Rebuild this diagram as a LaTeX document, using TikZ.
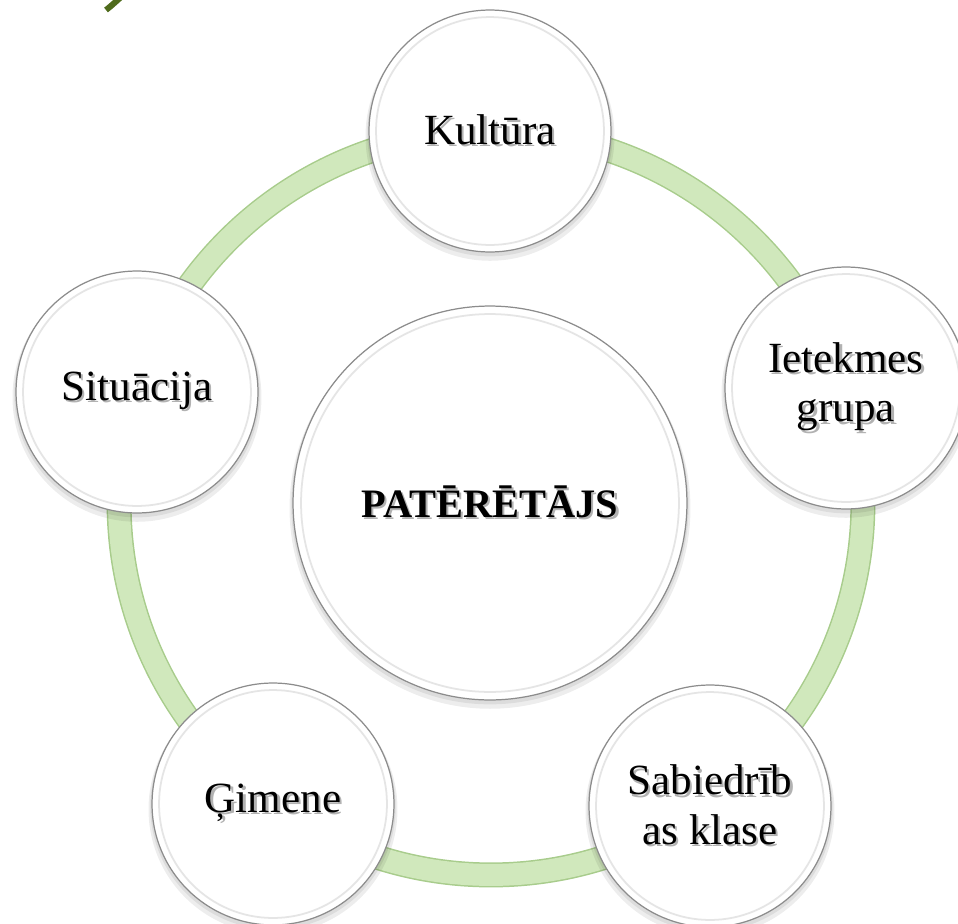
\documentclass[tikz,border=0pt]{standalone}
\usepackage{fontspec}
\setmainfont{Liberation Serif}
\definecolor{ringfill}{HTML}{D0E8BC}
\definecolor{ringedge}{HTML}{A8CC8C}
\definecolor{titlegreen}{HTML}{4F6B1C}
\newcommand\shd[1]{\leavevmode\rlap{\kern1.3pt\raisebox{-1.3pt}{\textcolor{black!30}{#1}}}#1}
\tikzset{
  bubble/.style={circle, inner sep=0pt, fill=white, draw=black!45, line width=0.7pt, align=center, text=black},
  smallbubble/.style={bubble, minimum size=4.84cm, font=\fontsize{24.5}{28}\selectfont},
  bigbubble/.style={bubble, minimum size=7.88cm, font=\fontsize{23}{26}\selectfont\bfseries},
  softshadow/.style={fill=black, opacity=0.07},
  rimline/.style={draw=black!10, line width=1pt},
}
\begin{document}
\begin{tikzpicture}[x=0.02cm,y=-0.02cm]
\useasboundingbox (0,0) rectangle (958,924);
% centres
\coordinate (cr) at (491,503);
\coordinate (ck) at (490,131);
\coordinate (ci) at (846,388);
\coordinate (cs) at (710,806);
\coordinate (cg) at (273,804);
\coordinate (csi) at (137,392);
\coordinate (cp) at (490,503);
% title fragment
\draw[titlegreen, line width=0.12cm] (106,10) .. controls (111,6) .. (121,-3);
% ring
\draw[ringedge, line width=0.5cm] (cr) circle (7.44cm);
\draw[ringfill, line width=0.44cm] (cr) circle (7.44cm);
% shadows
\foreach \c/\r in {ck/2.42,ci/2.42,cs/2.42,cg/2.42,csi/2.42,cp/3.94}{
  \fill[softshadow] ([yshift=-3pt]\c) circle ({\r cm+2pt});
  \fill[softshadow] ([yshift=-1.5pt]\c) circle ({\r cm+1pt});
}
% bubbles
\node[smallbubble] (kul) at (ck) {\shd{Kultūra}};
\node[smallbubble] (iet) at (ci) {\shd{Ietekmes}\\\shd{grupa}};
\node[smallbubble] (sab) at (cs) {\shd{Sabiedrīb}\\\shd{as klase}};
\node[smallbubble] (gim) at (cg) {\shd{Ģimene}};
\node[smallbubble] (sit) at (csi) {\shd{Situācija}};
\node[bigbubble] (pat) at (cp) {\shd{PATĒRĒTĀJS}};
% inner rims
\foreach \n/\r in {kul/2.28,iet/2.28,sab/2.28,gim/2.28,sit/2.28,pat/3.78}{
  \draw[rimline] (\n.center) circle (\r cm);
}
\end{tikzpicture}
\end{document}
